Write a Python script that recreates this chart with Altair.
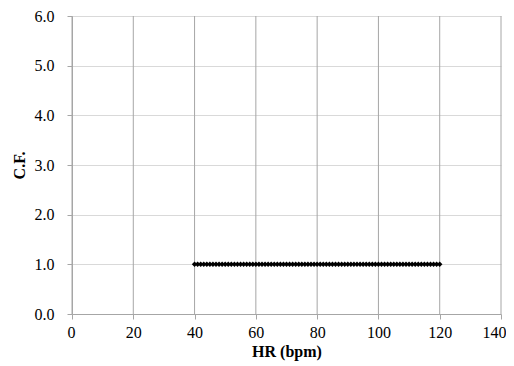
import altair as alt
import pandas as pd

hr = [40, 41, 42, 43, 44, 45, 46, 47, 48, 49,
      50, 51, 52, 53, 54, 55, 56, 57, 58, 59,
      60, 61, 62, 63, 64, 65, 66, 67, 68, 69,
      70, 71, 72, 73, 74, 75, 76, 77, 78, 79,
      80, 81, 82, 83, 84, 85, 86, 87, 88, 89,
      90, 91, 92, 93, 94, 95, 96, 97, 98, 99,
      100, 101, 102, 103, 104, 105, 106, 107, 108, 109,
      110, 111, 112, 113, 114, 115, 116, 117, 118, 119, 120]
cf = [1.0] * len(hr)
x_ticks = [0, 20, 40, 60, 80, 100, 120, 140]
y_ticks = [0, 1, 2, 3, 4, 5, 6]

df = pd.DataFrame({"HR": hr, "CF": cf})

font = "Liberation Serif"

x_grid = alt.Chart(pd.DataFrame({"v": x_ticks})).mark_rule(
    color="#a6a6a6", strokeWidth=1
).encode(x=alt.X("v:Q", scale=alt.Scale(domain=[0, 140])))

points = alt.Chart(df).mark_point(
    shape="diamond", filled=True, color="black", size=30, opacity=1
).encode(
    x=alt.X("HR:Q", scale=alt.Scale(domain=[0, 140], nice=False),
            axis=alt.Axis(values=x_ticks, title="HR (bpm)", labelFlush=True,
                          labelFlushOffset=5,
                          grid=False, tickSize=5, labelPadding=5, titlePadding=3)),
    y=alt.Y("CF:Q", scale=alt.Scale(domain=[0, 6], nice=False),
            axis=alt.Axis(values=y_ticks, format=".1f", title="C.F.", labelFlush=False,
                          grid=True, gridColor="#d9d9d9", tickSize=5, labelPadding=13,
                          titlePadding=7)),
)

chart = alt.layer(x_grid, points).properties(
    width=429, height=298,
    autosize=alt.AutoSizeParams(type="none"),
    padding={"left": 64, "top": 8, "right": 5, "bottom": 48},
).configure_view(stroke=None).configure_axis(
    labelFont=font, titleFont=font, labelFontSize=16, titleFontSize=16,
    labelColor="black", titleColor="black", domainColor="#a6a6a6", tickColor="#a6a6a6",
    titleFontWeight="bold",
)

chart.save("out.html", embed_options={"renderer": "svg", "actions": False})
